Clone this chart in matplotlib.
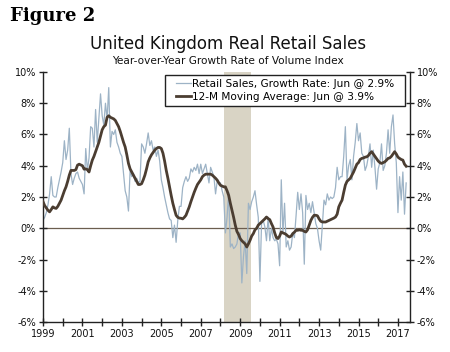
import numpy as np
import pandas as pd
import matplotlib
matplotlib.use("Agg")
import matplotlib.pyplot as plt
from matplotlib.patches import Rectangle
from matplotlib.ticker import FixedLocator, FuncFormatter

# Monthly data, Jan 1999 .. Jun 2017 (year-over-year %)
retail_sales = [
    # 1999
    0.5, 0.7, 1.0, 1.5, 2.2, 3.3, 2.1, 2.0, 2.0, 2.6, 3.1, 3.6,
    # 2000
    4.2, 5.6, 4.4, 5.0, 6.4, 3.5, 2.8, 3.2, 3.5, 3.6, 3.2, 3.0,
    # 2001
    2.8, 2.2, 5.1, 3.7, 4.5, 6.5, 6.4, 5.2, 7.6, 5.5, 7.0, 8.6,
    # 2002
    7.2, 6.6, 8.0, 7.0, 9.0, 5.2, 6.2, 6.0, 6.3, 5.5, 5.2, 4.8,
    # 2003
    4.6, 3.5, 2.4, 2.0, 1.1, 3.7, 3.3, 3.5, 3.0, 3.2, 2.9, 3.0,
    # 2004
    5.4, 5.2, 4.8, 5.4, 6.1, 5.3, 5.6, 5.0, 5.2, 4.6, 5.0, 4.3,
    # 2005
    3.1, 2.6, 2.0, 1.5, 1.0, 0.6, 0.5, -0.6, 0.2, -0.9, 0.5, 1.4,
    # 2006
    1.4, 2.6, 3.0, 3.3, 3.0, 3.2, 3.8, 3.6, 3.9, 3.7, 4.1, 3.5,
    # 2007
    4.1, 3.5, 3.8, 4.1, 3.5, 2.9, 3.9, 3.6, 3.3, 2.2, 3.0, 2.9,
    # 2008
    2.9, 2.4, 2.0, -0.3, 0.7, 2.3, -1.2, -1.0, -1.3, -1.2, -1.0, -0.3,
    # 2009
    -0.3, -3.5, -1.8, -0.8, -2.9, 1.6, 1.2, 1.7, 2.0, 2.4, 1.5, 0.7,
    # 2010
    -3.4, 0.3, 0.5, 0.1, -0.8, 0.7, -0.8, 0.0, -0.6, -0.8, -0.7, -1.0,
    # 2011
    -2.4, 3.1, -0.3, 1.6, -1.2, -0.8, -1.4, -1.2, -0.3, -0.6, 0.8, 2.3,
    # 2012
    1.2, 2.2, 1.0, -2.3, 2.1, 1.2, 1.6, 1.0, 1.7, 1.0, 0.3, 0.0,
    # 2013
    -0.8, -1.4, 0.2, 1.8, 1.5, 2.2, 1.8, 2.0, 1.9, 2.0, 2.6, 3.9,
    # 2014
    3.1, 3.3, 3.3, 4.6, 6.5, 3.1, 4.0, 4.4, 3.1, 4.6, 5.5, 6.7,
    # 2015
    5.6, 6.1, 4.8, 4.6, 3.7, 4.0, 4.6, 5.4, 3.9, 5.0, 3.9, 2.5,
    # 2016
    3.8, 4.2, 5.4, 3.7, 4.0, 4.8, 6.3, 4.8, 6.5, 7.25, 5.4, 4.2,
    # 2017
    1.0, 3.3, 1.8, 3.6, 0.9, 2.9,
]

moving_average = [
    # 1999
    1.7, 1.45, 1.3, 1.15, 1.05, 1.2, 1.37, 1.3, 1.27, 1.4, 1.6, 1.8,
    # 2000
    2.1, 2.4, 2.65, 3.0, 3.4, 3.7, 3.7, 3.7, 3.75, 4.04, 4.1, 4.05,
    # 2001
    4.0, 3.78, 3.8, 3.75, 3.6, 4.0, 4.36, 4.6, 4.9, 5.2, 5.5, 5.9,
    # 2002
    6.3, 6.5, 6.6, 7.1, 7.2, 7.1, 7.05, 7.0, 6.9, 6.7, 6.5, 6.2,
    # 2003
    5.85, 5.5, 5.2, 4.7, 4.15, 3.8, 3.6, 3.4, 3.2, 3.0, 2.8, 2.8,
    # 2004
    2.85, 3.1, 3.4, 3.8, 4.25, 4.5, 4.7, 4.85, 5.0, 5.1, 5.17, 5.17,
    # 2005
    5.1, 4.8, 4.3, 3.7, 3.2, 2.65, 2.1, 1.6, 1.2, 0.83, 0.7, 0.65,
    # 2006
    0.64, 0.6, 0.7, 0.83, 1.1, 1.37, 1.7, 2.0, 2.3, 2.56, 2.8, 2.95,
    # 2007
    3.1, 3.3, 3.4, 3.46, 3.46, 3.46, 3.46, 3.4, 3.3, 3.2, 3.08, 2.9,
    # 2008
    2.75, 2.7, 2.65, 2.65, 2.4, 2.1, 1.6, 1.15, 0.7, 0.2, -0.2, -0.4,
    # 2009
    -0.66, -0.8, -0.9, -1.0, -1.2, -1.0, -0.77, -0.5, -0.34, -0.1, 0.0, 0.2,
    # 2010
    0.3, 0.4, 0.5, 0.6, 0.72, 0.62, 0.55, 0.3, 0.08, -0.3, -0.6, -0.66,
    # 2011
    -0.5, -0.24, -0.3, -0.34, -0.4, -0.5, -0.56, -0.5, -0.34, -0.25, -0.13, -0.13,
    # 2012
    -0.1, -0.13, -0.13, -0.2, -0.24, -0.1, 0.2, 0.5, 0.7, 0.83, 0.83, 0.8,
    # 2013
    0.6, 0.45, 0.4, 0.4, 0.4, 0.45, 0.5, 0.55, 0.6, 0.65, 0.72, 0.9,
    # 2014
    1.37, 1.6, 1.8, 2.3, 2.76, 3.0, 3.1, 3.2, 3.4, 3.6, 3.85, 4.1,
    # 2015
    4.2, 4.4, 4.47, 4.5, 4.55, 4.57, 4.65, 4.8, 4.9, 4.75, 4.6, 4.45,
    # 2016
    4.3, 4.2, 4.15, 4.2, 4.25, 4.35, 4.47, 4.5, 4.6, 4.75, 4.9, 4.75,
    # 2017
    4.55, 4.47, 4.4, 4.36, 4.1, 3.97,
]

start_year = 1999
recession = (2008.2, 2009.55)
year_labels = list(range(1999, 2018, 2))
y_ticks = [-6, -4, -2, 0, 2, 4, 6, 8, 10]
legend_labels = ["Retail Sales, Growth Rate: Jun @ 2.9%",
                 "12-M Moving Average: Jun @ 3.9%"]

n = len(retail_sales)
t = start_year + np.arange(n) / 12.0

fig = plt.figure(figsize=(4.5, 3.52), dpi=100)
ax = fig.add_axes([0.0956, 0.0852, 0.815, 0.7103])

ax.axvspan(recession[0], recession[1], color="#d9d4c5", lw=0, zorder=0)
ax.axhline(0, color="#6b5d4f", lw=0.9, zorder=1)
l1, = ax.plot(t, retail_sales, color="#9db3c6", lw=0.9, zorder=2)
l2, = ax.plot(t, moving_average, color="#4b3d31", lw=2.0, zorder=3)

ax.set_xlim(1999, 2017.6)
ax.set_ylim(-6, 10)
ax.set_yticks(y_ticks)
ax.yaxis.set_major_formatter(FuncFormatter(lambda v, p: f"{int(v)}%"))
ax.xaxis.set_major_locator(FixedLocator(year_labels))
ax.xaxis.set_minor_locator(FixedLocator([y for y in range(2000, 2018, 2)]))
ax.xaxis.set_major_formatter(FuncFormatter(lambda v, p: f"{int(v)}"))

ax.spines["top"].set_visible(False)
for s in ["left", "right", "bottom"]:
    ax.spines[s].set_color("#222222")
    ax.spines[s].set_linewidth(1.0)

ax.tick_params(axis="both", which="both", direction="inout", length=6,
               width=1.0, color="#222222", labelsize=7, labelcolor="#111111")
ax.tick_params(axis="y", which="both", left=True, right=True,
               labelleft=True, labelright=True, pad=2)
ax.tick_params(axis="x", pad=2)

# legend frame (drawn separately for exact padding)
frame = Rectangle((0.332, 0.862), 0.654, 0.126, transform=ax.transAxes,
                  facecolor="white", edgecolor="#222222", lw=1.0, zorder=4)
ax.add_patch(frame)
leg = ax.legend([l1, l2], legend_labels, loc="upper left",
                bbox_to_anchor=(0.362, 0.972), fontsize=7.6, frameon=False,
                handlelength=1.45, handletextpad=0.05,
                borderpad=0.0, labelspacing=0.3, borderaxespad=0)
leg.set_zorder(5)

fig.text(0.022, 0.955, "Figure 2", fontsize=13, fontweight="bold",
         family="DejaVu Serif", ha="left", va="center")
fig.text(0.507, 0.876, "United Kingdom Real Retail Sales", fontsize=12,
         ha="center", va="center", color="#111111")
fig.text(0.507, 0.828, "Year-over-Year Growth Rate of Volume Index",
         fontsize=7.6, ha="center", va="center", color="#111111")

fig.savefig("out.png", dpi=100)
